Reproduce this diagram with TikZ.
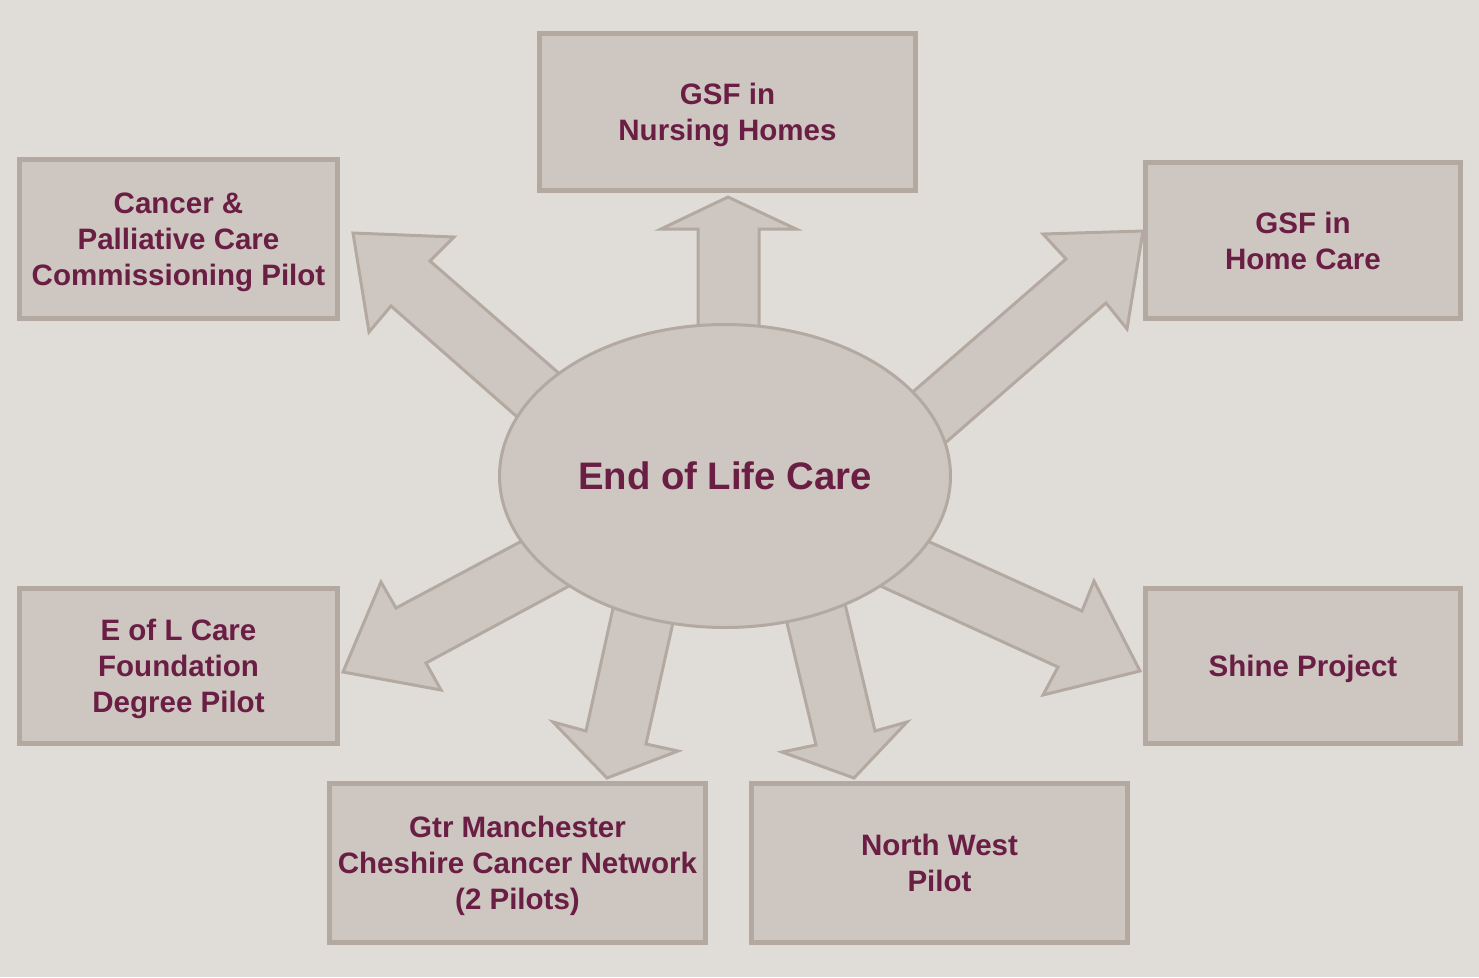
\documentclass[tikz,border=0pt]{standalone}
\usepackage{fontspec}
\setmainfont{Liberation Sans}
\usepackage{tikz}
\usetikzlibrary{shapes.geometric}

\definecolor{paper}{RGB}{224,221,216}
\definecolor{boxfill}{RGB}{206,198,193}
\definecolor{boxline}{RGB}{179,169,160}
\definecolor{plum}{RGB}{106,30,68}

\tikzset{
  project/.style={draw=boxline, fill=boxfill, line width=1.4pt, align=center,
    text=plum, font=\fontsize{8.4}{10.24}\selectfont\bfseries, inner sep=0pt, text depth=0pt},
  blockarrow/.style={draw=boxline, fill=boxfill, line width=0.85pt}
}

\begin{document}
\begin{tikzpicture}[x=0.1mm, y=-0.1mm]
            \fill[paper] (0,0) rectangle (1479,977);
            \useasboundingbox (0,0) rectangle (1479,977);
            % block arrows, bases hidden under the ellipse
            \draw[blockarrow] (698,340) -- (698,229) -- (661,229) -- (728,197) -- (796,229) -- (759,229) -- (759,340) -- cycle;
            \draw[blockarrow] (608,416) -- (430,261) -- (454,237) -- (353,233) -- (369,332) -- (391,306) -- (565,459) -- cycle;
            \draw[blockarrow] (839,456) -- (1066,259) -- (1043,234) -- (1143,231) -- (1127,329) -- (1106,303) -- (867,511) -- cycle;
            \draw[blockarrow] (857,509) -- (1082,611) -- (1094,581) -- (1140,671) -- (1043,695) -- (1058,667) -- (830,563) -- cycle;
            \draw[blockarrow] (582,509) -- (396,608) -- (381,582) -- (343,672) -- (441,690) -- (426,663) -- (623,557) -- cycle;
            \draw[blockarrow] (621,572) -- (586,731) -- (553,722) -- (607,778) -- (678,751) -- (646,744) -- (680,591) -- cycle;
            \draw[blockarrow] (777,581) -- (816,745) -- (782,752) -- (854,778) -- (907,722) -- (875,731) -- (837,570) -- cycle;
            % centre
            \node[ellipse, draw=boxline, fill=boxfill, line width=0.85pt, inner sep=0pt,
                  minimum width=4.51cm, minimum height=3.03cm, text=plum,
                  font=\fontsize{10.9}{12}\selectfont\bfseries] (eol) at (725,476) {End of Life Care};
            % projects
            \node[project, minimum width=3.76cm, minimum height=1.57cm] (nursing) at (727.5,112) {GSF in\\Nursing Homes};
            \node[project, minimum width=3.18cm, minimum height=1.59cm] (commissioning) at (178.5,239) {Cancer \&\\Palliative Care\\Commissioning Pilot};
            \node[project, minimum width=3.15cm, minimum height=1.56cm] (homecare) at (1303,240.5) {GSF in\\Home Care};
            \node[project, minimum width=3.18cm, minimum height=1.55cm] (foundation) at (178.5,666) {E of L Care\\Foundation\\Degree Pilot};
            \node[project, minimum width=3.15cm, minimum height=1.55cm] (shine) at (1303,666) {Shine Project};
            \node[project, minimum width=3.76cm, minimum height=1.59cm, text depth=-1.1pt] (network) at (517.5,863) {Gtr Manchester\\Cheshire Cancer Network\\(2 Pilots)};
            \node[project, minimum width=3.76cm, minimum height=1.59cm] (northwest) at (939.5,863) {North West\\Pilot};
        \end{tikzpicture}
\end{document}
